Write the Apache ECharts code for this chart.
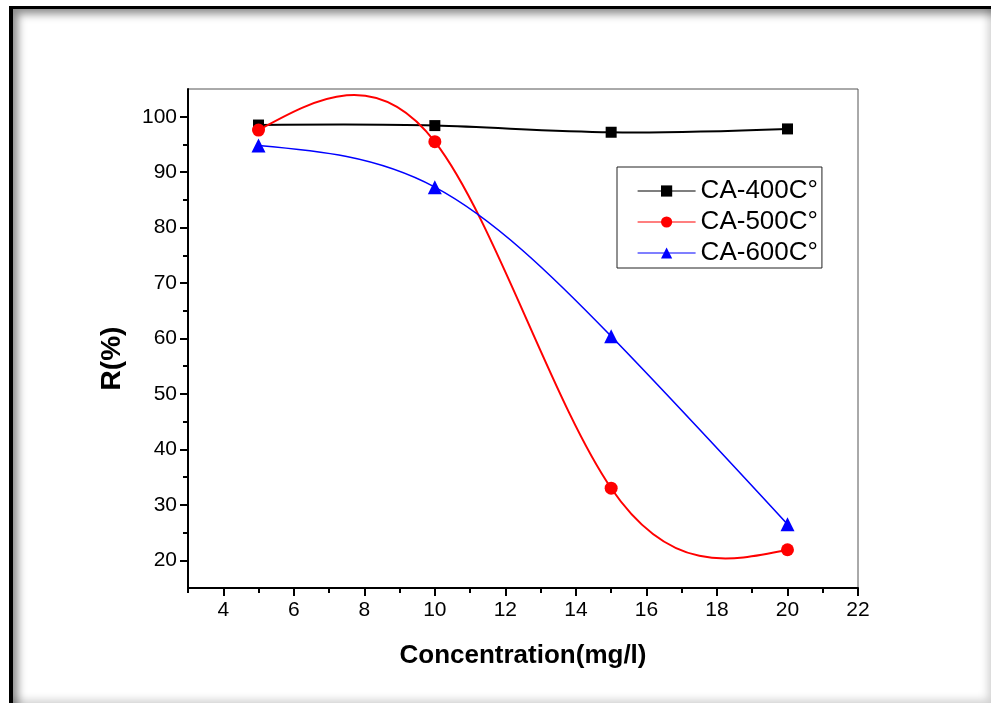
<!DOCTYPE html>
<html>
<head>
<meta charset="utf-8">
<script src="https://cdn.jsdelivr.net/npm/echarts@6/dist/echarts.min.js"></script>
<style>
  html, body { margin: 0; padding: 0; background: #fff; }
  #frame {
    position: absolute; left: 9px; top: 6px; width: 978px; height: 694px;
    border-left: 4px solid #000; border-top: 3px solid #000;
    box-shadow: inset 7px 7px 9px -2px rgba(0,0,0,0.45), inset -6px -6px 8px -3px rgba(0,0,0,0.18);
  }
  #chart { position: absolute; left: 0; top: 0; width: 991px; height: 704px; }
</style>
</head>
<body>
<div id="frame"></div>
<div id="chart"></div>
<script>
// ---- data ----
const xValues = [5, 10, 15, 20];
const ca400 = [98.5, 98.4, 97.2, 97.8];
const ca500 = [97.6, 95.5, 33.0, 21.9];
const ca600 = [94.8, 87.3, 60.4, 26.5];
const seriesNames = ['CA-400C°', 'CA-500C°', 'CA-600C°'];
const xTickLabels = [4, 6, 8, 10, 12, 14, 16, 18, 20, 22];
const xMinorTicks = [3, 5, 7, 9, 11, 13, 15, 17, 19, 21];
const yTickLabels = [20, 30, 40, 50, 60, 70, 80, 90, 100];
const yMinorTicks = [25, 35, 45, 55, 65, 75, 85, 95];
const xTitle = 'Concentration(mg/l)';
const yTitle = 'R(%)';

const colors = ['#000000', '#ff0000', '#0000ff'];
const symbols = ['rect', 'circle', 'triangle'];
const symbolSizes = [11, 13, 14];
const lineWidths = [2, 2, 1.6];
const font = '"Liberation Sans", Arial, sans-serif';
const pairs = arr => xValues.map((x, i) => [x, arr[i]]);

// Natural cubic spline (as the original plot's "spline" connector): returns
// the end slopes of every segment, so each segment is drawn as one Bezier curve.
function splineSlopes(xs, ys) {
  const n = xs.length;
  const M = new Array(n).fill(0);
  if (n > 2) {
    const a = [], b = [], c = [], d = [];
    for (let i = 1; i < n - 1; i++) {
      const h0 = xs[i] - xs[i - 1], h1 = xs[i + 1] - xs[i];
      a.push(h0 / 6); b.push((h0 + h1) / 3); c.push(h1 / 6);
      d.push((ys[i + 1] - ys[i]) / h1 - (ys[i] - ys[i - 1]) / h0);
    }
    const m = b.length;
    for (let i = 1; i < m; i++) {
      const w = a[i] / b[i - 1];
      b[i] -= w * c[i - 1]; d[i] -= w * d[i - 1];
    }
    const sol = new Array(m);
    sol[m - 1] = d[m - 1] / b[m - 1];
    for (let i = m - 2; i >= 0; i--) sol[i] = (d[i] - c[i] * sol[i + 1]) / b[i];
    for (let i = 0; i < m; i++) M[i + 1] = sol[i];
  }
  const segs = [];
  for (let i = 0; i < n - 1; i++) {
    const h = xs[i + 1] - xs[i], s = (ys[i + 1] - ys[i]) / h;
    segs.push({
      d0: s - h * (2 * M[i] + M[i + 1]) / 6,
      d1: s + h * (M[i] + 2 * M[i + 1]) / 6
    });
  }
  return segs;
}

function splineSeries(name, ys, color, width) {
  const segs = splineSlopes(xValues, ys);
  return {
    name: name, type: 'custom', coordinateSystem: 'cartesian2d', z: 1,
    data: pairs(ys), encode: { x: 0, y: 1 }, silent: true,
    renderItem: function (params, api) {
      const i = params.dataIndex;
      if (i >= xValues.length - 1) return { type: 'group', children: [] };
      const x0 = xValues[i], x1 = xValues[i + 1], h = x1 - x0;
      const p0 = api.coord([x0, ys[i]]);
      const p3 = api.coord([x1, ys[i + 1]]);
      const c1 = api.coord([x0 + h / 3, ys[i] + segs[i].d0 * h / 3]);
      const c2 = api.coord([x1 - h / 3, ys[i + 1] - segs[i].d1 * h / 3]);
      return {
        type: 'bezierCurve',
        shape: { x1: p0[0], y1: p0[1], x2: p3[0], y2: p3[1], cpx1: c1[0], cpy1: c1[1], cpx2: c2[0], cpy2: c2[1] },
        style: { stroke: color, lineWidth: width, fill: null }
      };
    }
  };
}

const allData = [ca400, ca500, ca600];
const markerSeries = allData.map((ys, k) => ({
  name: seriesNames[k], type: 'line', data: pairs(ys), z: 3,
  symbol: symbols[k], symbolSize: symbolSizes[k], color: colors[k],
  lineStyle: { color: colors[k], width: lineWidths[k], opacity: 0 },
  itemStyle: { color: colors[k] }
}));
const curveSeries = allData.map((ys, k) => splineSeries(seriesNames[k], ys, colors[k], lineWidths[k]));

const chart = echarts.init(document.getElementById('chart'), null, { renderer: 'canvas' });
chart.setOption({
  backgroundColor: 'transparent',
  animation: false,
  grid: {
    left: 188, right: 133, top: 89, bottom: 116,
    show: true, borderColor: '#555', borderWidth: 1, backgroundColor: 'transparent'
  },
  legend: {
    orient: 'vertical', left: 617, top: 167,
    data: seriesNames.map((n, k) => ({ name: n, lineStyle: { opacity: 1, color: colors[k], width: 1.2 } })),
    borderColor: '#222', borderWidth: 1,
    padding: [11, 4, 2, 20],
    itemWidth: 58, itemHeight: 14, itemGap: 5,
    textStyle: { fontSize: 26, color: '#000', fontFamily: font }
  },
  xAxis: [{
    type: 'value', min: 3, max: 22, position: 'bottom',
    name: xTitle, nameLocation: 'middle', nameGap: 55,
    nameTextStyle: { fontSize: 26, fontWeight: 'bold', color: '#000', fontFamily: font },
    axisLine: { show: true, lineStyle: { color: '#000', width: 2 } },
    axisTick: { show: true, length: 8, customValues: xTickLabels, lineStyle: { color: '#000', width: 2 } },
    axisLabel: { show: true, customValues: xTickLabels, margin: 12, fontSize: 21, color: '#000', fontFamily: font },
    splitLine: { show: false }
  }, {
    type: 'value', min: 3, max: 22, position: 'bottom', offset: 0,
    axisLine: { show: false },
    axisTick: { show: true, length: 5, customValues: xMinorTicks, lineStyle: { color: '#000', width: 2 } },
    axisLabel: { show: false },
    splitLine: { show: false }
  }],
  yAxis: [{
    type: 'value', min: 15, max: 105, position: 'left',
    name: yTitle, nameLocation: 'middle', nameGap: 62, nameRotate: 90,
    nameTextStyle: { fontSize: 28, fontWeight: 'bold', color: '#000', fontFamily: font, padding: [0, 40, 0, 0] },
    axisLine: { show: true, lineStyle: { color: '#000', width: 2 } },
    axisTick: { show: true, length: 8, customValues: yTickLabels, lineStyle: { color: '#000', width: 2 } },
    axisLabel: { show: true, customValues: yTickLabels, margin: 11, fontSize: 21, color: '#000', fontFamily: font },
    splitLine: { show: false }
  }, {
    type: 'value', min: 15, max: 105, position: 'left', offset: 0,
    axisLine: { show: false },
    axisTick: { show: true, length: 5, customValues: yMinorTicks, lineStyle: { color: '#000', width: 2 } },
    axisLabel: { show: false },
    splitLine: { show: false }
  }],
  series: markerSeries.concat(curveSeries)
});
</script>
</body>
</html>
